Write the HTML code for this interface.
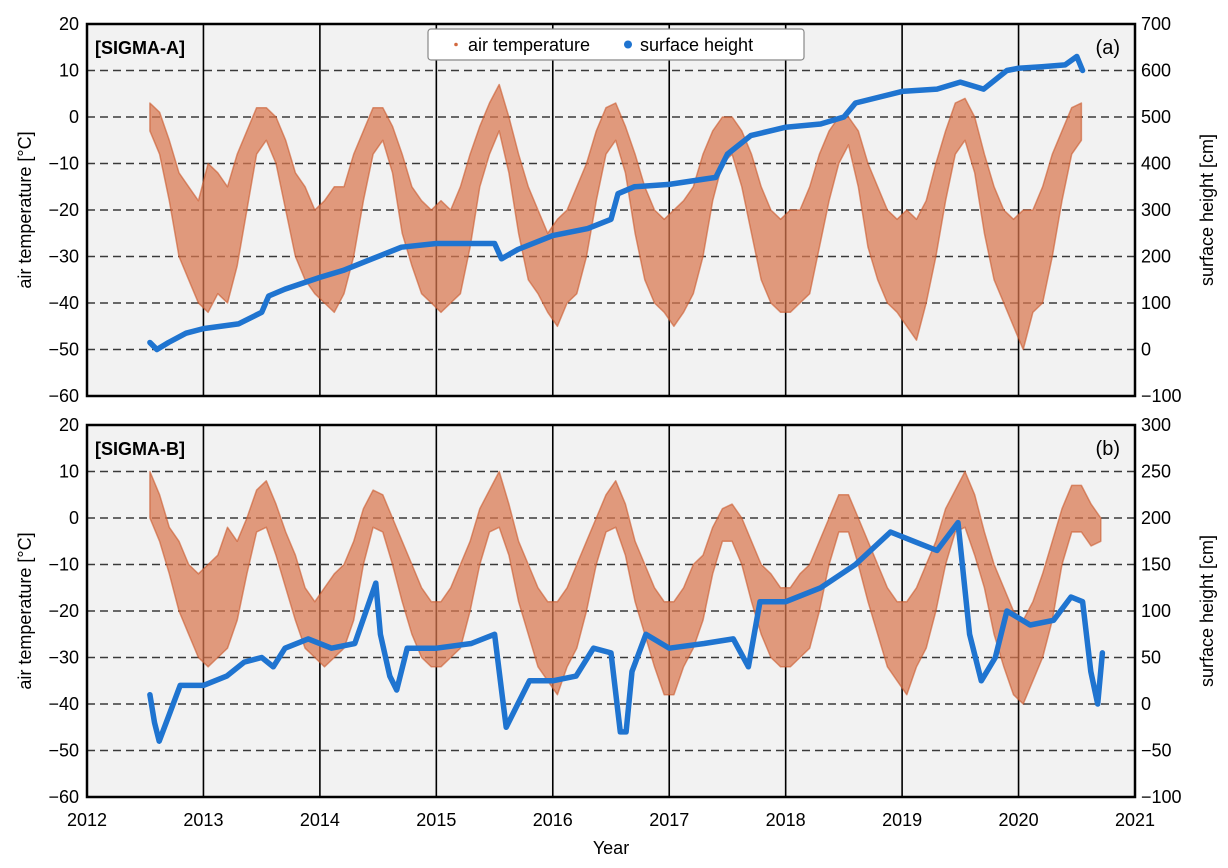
<!DOCTYPE html>
<html><head><meta charset="utf-8"><style>
html,body{margin:0;padding:0;background:#fff;}
svg{display:block;font-family:"Liberation Sans",sans-serif;}
</style></head><body>
<svg id="chart" width="1228" height="868" viewBox="0 0 1228 868" xmlns="http://www.w3.org/2000/svg"></svg>
<script>
const xTicks=[2012,2013,2014,2015,2016,2017,2018,2019,2020,2021];
const tTicks=[20,10,0,-10,-20,-30,-40,-50,-60];
const hTicksA=[700,600,500,400,300,200,100,0,-100];
const hTicksB=[300,250,200,150,100,50,0,-50,-100];
const tempStart=2012.54;
// SIGMA-A monthly max/min temperature envelope (°C)
const tempMaxA=[3,1,-5,-12,-15,-18,-10,-12,-15,-8,-3,2,2,0,-5,-12,-15,-20,-18,-15,-15,-8,-3,2,2,-2,-8,-15,-18,-20,-18,-20,-15,-8,-2,3,7,0,-8,-15,-20,-25,-22,-20,-15,-10,-3,2,3,-2,-8,-15,-20,-22,-20,-18,-15,-8,-3,0,0,-3,-8,-15,-20,-22,-20,-20,-15,-8,-3,0,0,-3,-10,-15,-20,-22,-20,-22,-18,-10,-3,3,4,0,-8,-15,-20,-22,-20,-20,-15,-8,-3,2,3];
const tempMinA=[-3,-8,-18,-30,-35,-40,-42,-38,-40,-32,-20,-8,-5,-10,-20,-30,-35,-38,-40,-42,-38,-30,-18,-8,-5,-12,-25,-32,-38,-40,-42,-40,-38,-28,-15,-8,-3,-12,-25,-35,-38,-42,-45,-40,-38,-30,-18,-8,-5,-12,-25,-35,-40,-42,-45,-42,-38,-30,-18,-10,-8,-15,-25,-35,-40,-42,-42,-40,-38,-28,-18,-10,-6,-15,-28,-35,-40,-42,-45,-48,-40,-30,-18,-8,-5,-12,-25,-35,-40,-45,-50,-42,-40,-30,-18,-8,-5];
// SIGMA-B monthly max/min temperature envelope (°C)
const tempMaxB=[10,5,-2,-5,-10,-12,-10,-8,-2,-5,0,6,8,3,-3,-8,-15,-18,-15,-12,-10,-5,2,6,5,0,-5,-10,-15,-18,-18,-15,-10,-5,2,6,10,3,-5,-10,-15,-18,-18,-15,-10,-5,0,5,8,3,-5,-10,-15,-18,-18,-15,-10,-8,-2,2,3,0,-5,-10,-12,-15,-15,-12,-10,-5,0,5,5,0,-5,-10,-15,-18,-18,-15,-10,-5,2,6,10,5,-3,-10,-15,-20,-22,-18,-12,-5,2,7,7,3,0];
const tempMinB=[0,-5,-12,-20,-25,-30,-32,-30,-28,-22,-12,-3,-2,-8,-15,-22,-28,-30,-32,-30,-28,-22,-10,-2,-3,-10,-18,-25,-30,-32,-32,-30,-28,-20,-10,-3,-2,-8,-18,-25,-32,-35,-38,-32,-28,-20,-10,-3,-2,-8,-18,-25,-32,-38,-38,-32,-28,-22,-12,-5,-5,-10,-18,-25,-30,-32,-32,-30,-28,-20,-10,-3,-3,-10,-18,-25,-32,-35,-38,-32,-28,-20,-10,-3,-2,-8,-15,-25,-32,-38,-40,-35,-30,-22,-10,-3,-3,-6,-5];
// surface height knots (year, cm)
const hYearsA=[2012.54,2012.6,2012.7,2012.85,2013.0,2013.3,2013.5,2013.56,2013.7,2014.0,2014.2,2014.4,2014.7,2015.0,2015.3,2015.5,2015.56,2015.7,2016.0,2016.3,2016.5,2016.56,2016.7,2017.0,2017.4,2017.5,2017.7,2018.0,2018.3,2018.5,2018.6,2019.0,2019.3,2019.5,2019.7,2019.9,2020.0,2020.2,2020.4,2020.5,2020.55];
const hValsA=[15,0,15,35,45,55,80,115,130,155,170,190,220,228,228,228,195,215,245,260,280,335,350,355,370,420,460,478,485,500,530,555,560,575,560,600,605,608,612,630,600];
const hYearsB=[2012.54,2012.58,2012.62,2012.68,2012.8,2013.0,2013.2,2013.35,2013.5,2013.6,2013.7,2013.9,2014.1,2014.3,2014.48,2014.52,2014.6,2014.66,2014.75,2015.0,2015.3,2015.5,2015.56,2015.6,2015.7,2015.8,2016.0,2016.2,2016.35,2016.5,2016.58,2016.63,2016.68,2016.8,2017.0,2017.3,2017.55,2017.68,2017.78,2018.0,2018.3,2018.6,2018.9,2019.1,2019.3,2019.48,2019.58,2019.68,2019.8,2019.9,2020.1,2020.3,2020.45,2020.55,2020.62,2020.68,2020.72];
const hValsB=[10,-20,-40,-20,20,20,30,45,50,40,60,70,60,65,130,75,30,15,60,60,65,75,15,-25,0,25,25,30,60,55,-30,-30,35,75,60,65,70,40,110,110,125,150,185,175,165,195,75,25,50,100,85,90,115,110,35,0,55];

const svg=document.getElementById('chart');
const NS='http://www.w3.org/2000/svg';
function mk(tag,attrs,parent){const e=document.createElementNS(NS,tag);for(const k in attrs)e.setAttribute(k,attrs[k]);(parent||svg).appendChild(e);return e;}
const X0=87,X1=1135;
function xs(y){return X0+(y-2012)/9*(X1-X0);}

function panel(cfg){
  const {top,bot,hMin,hMax,hTicks,tmax,tmin,hy,hv,label,letter,key}=cfg;
  const ys=t=>top+(20-t)/80*(bot-top);
  const yh=h=>top+(hMax-h)/(hMax-hMin)*(bot-top);
  const g=mk('g',{});
  
  
  const bg=mk('rect',{x:X0,y:top,width:X1-X0,height:bot-top,fill:'#f2f2f2'},g);
  
  tTicks.forEach(t=>{if(t===20||t===-60)return;const l=mk('line',{x1:X0,x2:X1,y1:ys(t),y2:ys(t),stroke:'#3a3a3a','stroke-width':1.6,'stroke-dasharray':'8,5'},g);
    });
  xTicks.forEach(y=>{if(y===2012||y===2021)return;const l=mk('line',{x1:xs(y),x2:xs(y),y1:top,y2:bot,stroke:'#000','stroke-width':1.6},g);
    });
  let pts=[];
  for(let i=0;i<tmax.length;i++)pts.push(xs(tempStart+i/12).toFixed(1)+','+ys(tmax[i]).toFixed(1));
  for(let i=tmin.length-1;i>=0;i--)pts.push(xs(tempStart+i/12).toFixed(1)+','+ys(tmin[i]).toFixed(1));
  const tp=mk('polygon',{points:pts.join(' '),fill:'#d8764e','fill-opacity':0.72,stroke:'#c9592c','stroke-width':1.5,'stroke-opacity':0.6,'stroke-linejoin':'round'},g);
  
  const hp=mk('polyline',{points:hy.map((y,i)=>xs(y).toFixed(1)+','+yh(hv[i]).toFixed(1)).join(' '),fill:'none',stroke:'#1f74d0','stroke-width':5.5,'stroke-linejoin':'round','stroke-linecap':'round'},g);
  
  const fr=mk('rect',{x:X0,y:top,width:X1-X0,height:bot-top,fill:'none',stroke:'#000','stroke-width':2.5},g);
  
  tTicks.forEach(t=>{const e=mk('text',{x:X0-8,y:ys(t)+6,'text-anchor':'end','font-size':18},g);e.textContent=t<0?'\u2212'+(-t):t;
    });
  hTicks.forEach(h=>{const e=mk('text',{x:X1+6,y:yh(h)+6,'font-size':18},g);e.textContent=h<0?'\u2212'+(-h):h;
    });
  const ly=(top+bot)/2;
  const la=mk('text',{x:0,y:0,transform:`translate(31,${ly}) rotate(-90)`,'text-anchor':'middle','font-size':18},g);la.textContent='air temperature [\u00b0C]';
  
  const ra=mk('text',{x:0,y:0,transform:`translate(1213,${ly}) rotate(-90)`,'text-anchor':'middle','font-size':18},g);ra.textContent='surface height [cm]';
  
  const st=mk('text',{x:95,y:top+30,'font-size':18,'font-weight':'bold'},g);st.textContent=label;
  
  const pl=mk('text',{x:1120,y:top+30,'text-anchor':'end','font-size':20},g);pl.textContent=letter;
  
}
panel({top:24,bot:396,hMin:-100,hMax:700,hTicks:hTicksA,tmax:tempMaxA,tmin:tempMinA,hy:hYearsA,hv:hValsA,label:'[SIGMA-A]',letter:'(a)',key:'a'});
panel({top:425,bot:797,hMin:-100,hMax:300,hTicks:hTicksB,tmax:tempMaxB,tmin:tempMinB,hy:hYearsB,hv:hValsB,label:'[SIGMA-B]',letter:'(b)',key:'b'});
xTicks.forEach(y=>{const e=mk('text',{x:xs(y),y:826,'text-anchor':'middle','font-size':18});e.textContent=y;
  });
const xt=mk('text',{x:611,y:854,'text-anchor':'middle','font-size':18});xt.textContent='Year';

const lg=mk('g',{});

mk('rect',{x:428,y:29,width:376,height:31,rx:3,fill:'#fff',stroke:'#888','stroke-width':1.2},lg);
mk('circle',{cx:456,cy:44.5,r:1.8,fill:'#d2693f'},lg);
const l1=mk('text',{x:468,y:51,'font-size':18},lg);l1.textContent='air temperature';

mk('circle',{cx:628,cy:44.5,r:4,fill:'#1f74d0'},lg);
const l2=mk('text',{x:640,y:51,'font-size':18},lg);l2.textContent='surface height';

</script>
</body></html>
